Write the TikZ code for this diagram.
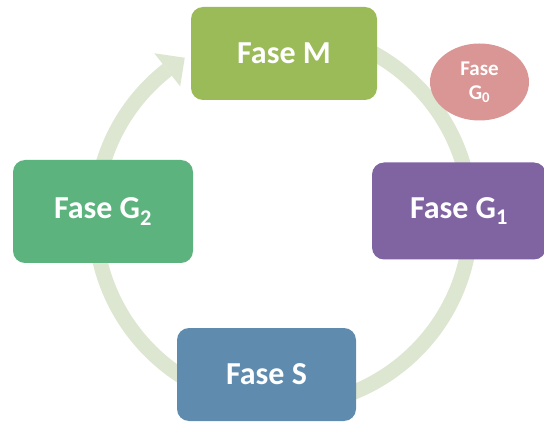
\documentclass[tikz,border=0pt]{standalone}
\usepackage{fontspec}
\setmainfont{Carlito}
\usepackage{tikz}
\usetikzlibrary{positioning, shapes.geometric}

\definecolor{faseM}{HTML}{9BBB59}
\definecolor{faseGuno}{HTML}{8064A2}
\definecolor{faseGdue}{HTML}{5CB37E}
\definecolor{faseS}{HTML}{5F8CAE}
\definecolor{faseGzero}{HTML}{D99694}
\definecolor{ciclo}{HTML}{DDE6D0}

\tikzset{
	fase box/.style={rectangle, rounded corners=12pt, inner sep=0pt,
		text=white, align=center,
		font=\bfseries\fontsize{32}{34}\selectfont},
	fase small/.style={ellipse, inner sep=0pt, text=white, align=center,
		font=\bfseries\fontsize{21}{24}\selectfont},
}

\begin{document}
\begin{tikzpicture}[x=1pt, y=1pt]

		\useasboundingbox (0,0) rectangle (544,421);
		\coordinate (c) at (283,203);

		% Ciclo
		\draw [line width=15pt, color=ciclo] ([shift={(85:188)}]c)
			arc [start angle=85, end angle=-232, radius=188];
		\fill [ciclo] ([shift={(128:209)}]c) -- ([shift={(121.5:188)}]c)
			-- ([shift={(128:167)}]c) -- cycle;

		% Fasi
		\node [fase box, fill=faseM, minimum width=186, minimum height=93]
			(m) at (284,367.5) {Fase M};
		\node [fase box, fill=faseGuno, minimum width=174, minimum height=97]
			(g1) at (459,210) {Fase G\textsubscript{1}};
		\node [fase box, fill=faseS, minimum width=179, minimum height=93]
			(s) at (266.5,46.5) {Fase S};
		\node [fase box, fill=faseGdue, minimum width=180, minimum height=103]
			(g2) at (103,209.5) {Fase G\textsubscript{2}};

		% Fase G0
		\node [fase small, fill=faseGzero, minimum width=99, minimum height=77]
			(g0) at (479.5,339) {Fase\\G\textsubscript{0}};

	\end{tikzpicture}
\end{document}
